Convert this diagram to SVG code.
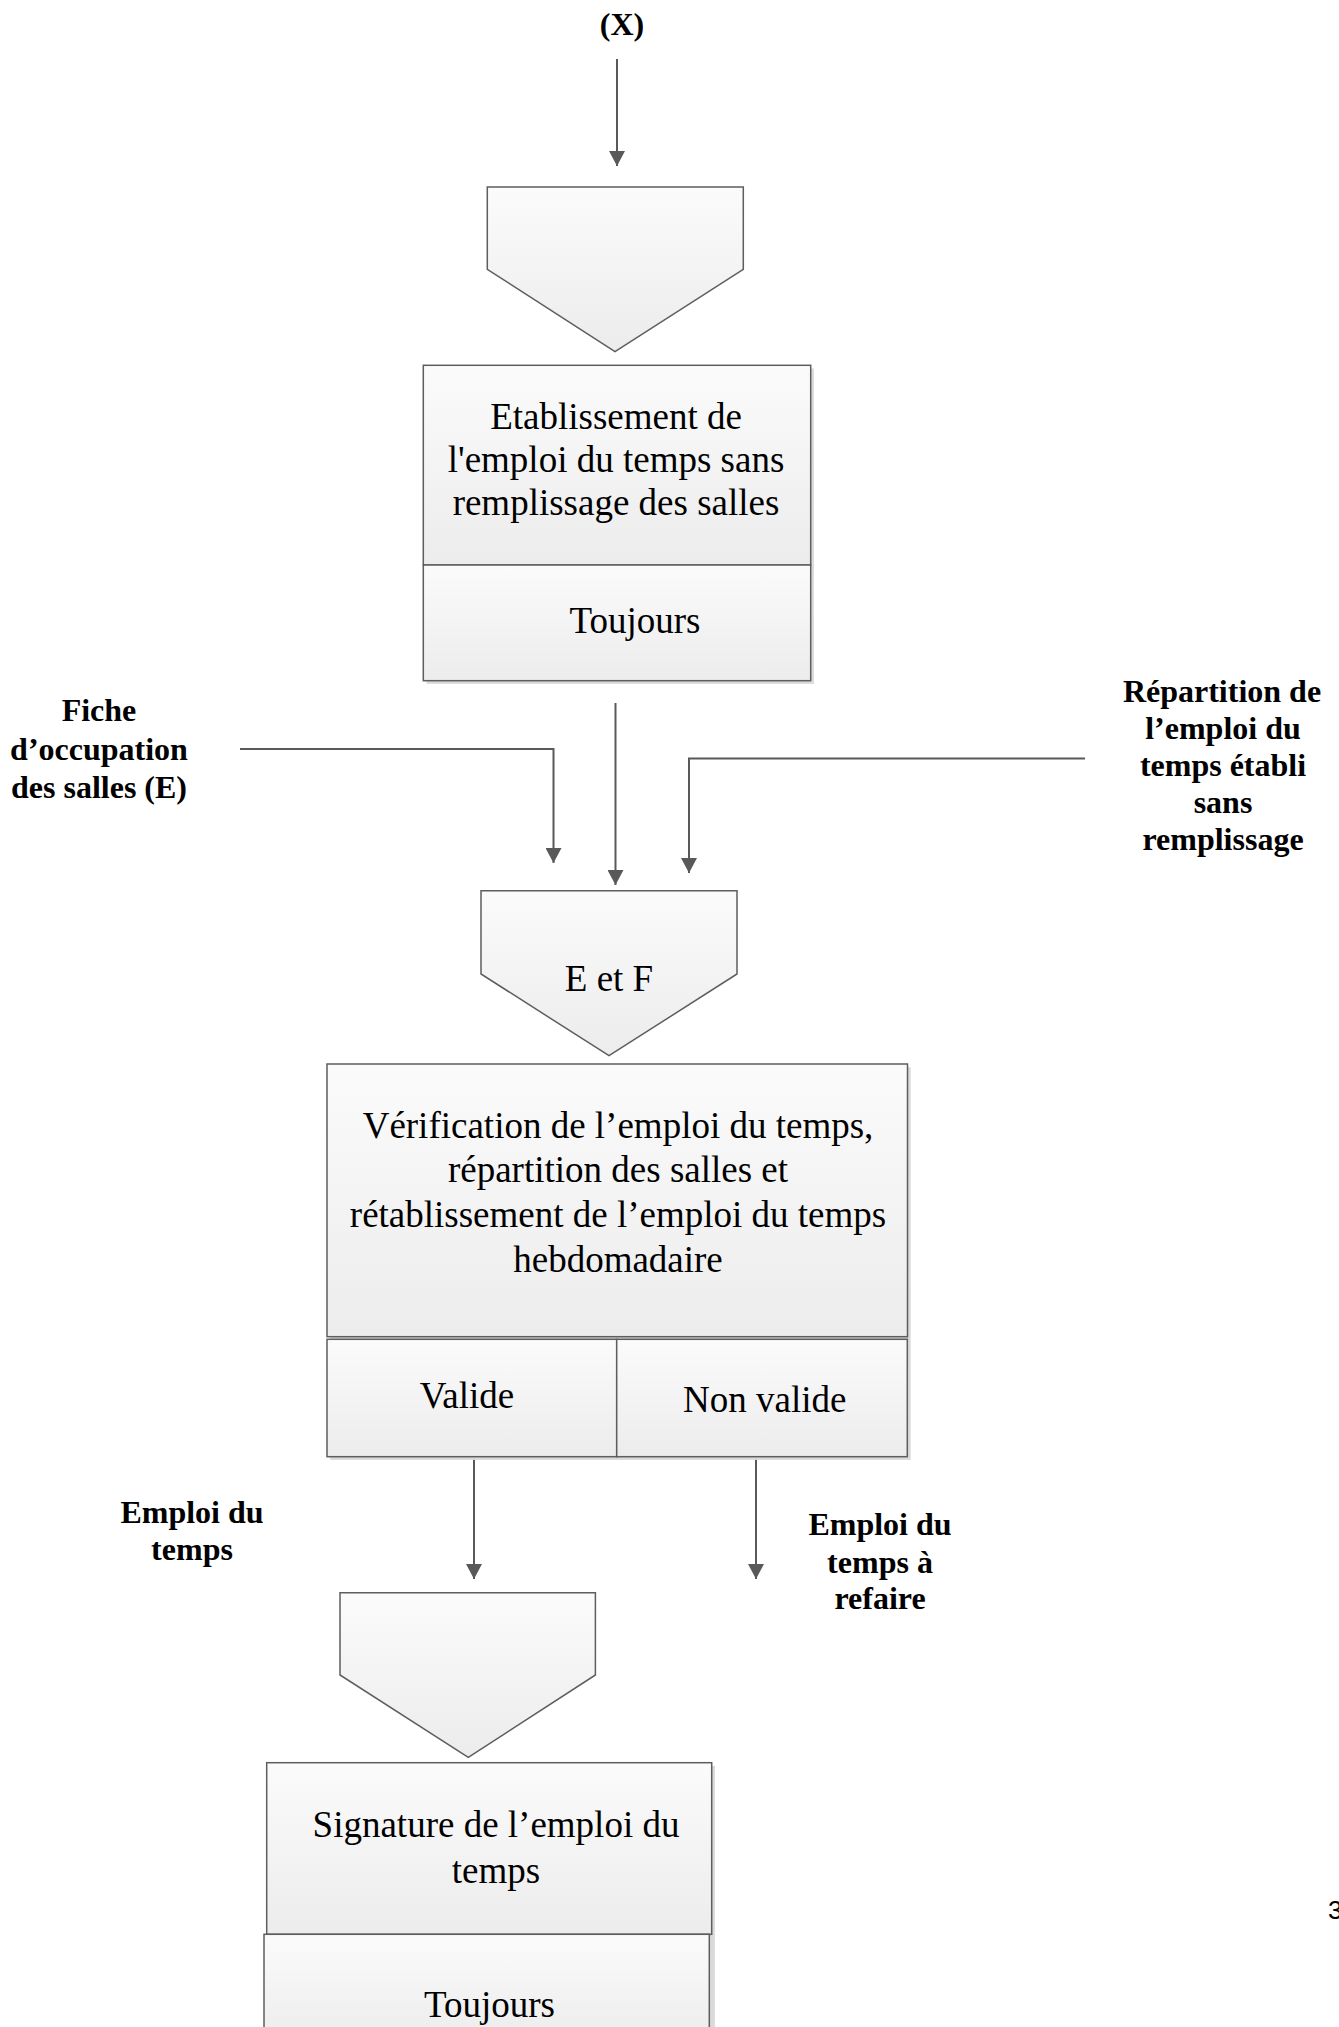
<svg xmlns="http://www.w3.org/2000/svg" width="1339" height="2027" viewBox="0 0 1339 2027">
  <style>
    .shape { fill: url(#boxFill); stroke: #5e5e5e; stroke-width: 1.5; }
    .shadow { fill: #dadada; }
    .label { font-family: "Liberation Serif", "Times New Roman", serif; font-size: 37px; fill: #000; text-anchor: middle; }
    .flow { font-family: "Liberation Serif", "Times New Roman", serif; font-size: 32px; font-weight: bold; fill: #000; text-anchor: middle; }
    .conn { fill: none; stroke: #595959; stroke-width: 2; marker-end: url(#arrow); }
    .page { font-family: "Liberation Sans", Arial, sans-serif; font-size: 26px; fill: #000; }
  </style>
  <defs>
    <linearGradient id="boxFill" x1="0" y1="0" x2="0" y2="1">
      <stop offset="0" stop-color="#fbfbfb"/>
      <stop offset="1" stop-color="#ececec"/>
    </linearGradient>
    <marker id="arrow" markerUnits="userSpaceOnUse" markerWidth="16" markerHeight="16" refX="15" refY="8" orient="auto">
      <path d="M0,0 L15,8 L0,16 Z" fill="#595959"/>
    </marker>
  </defs>

  <rect width="1339" height="2027" fill="#fff"/>

  <!-- connectors -->
  <g id="connectors">
    <line class="conn" x1="617" y1="59" x2="617" y2="166"/>
    <path class="conn" d="M240,749 H553.5 V863"/>
    <line class="conn" x1="615.5" y1="703" x2="615.5" y2="885"/>
    <path class="conn" d="M1085,758.5 H689 V873"/>
    <line class="conn" x1="474" y1="1457" x2="474" y2="1579"/>
    <line class="conn" x1="756" y1="1457" x2="756" y2="1579"/>
  </g>

  <!-- flow labels -->
  <g id="label-x">
    <text class="flow" x="622" y="35">(X)</text>
  </g>
  <g id="label-fiche">
    <text class="flow" x="99" y="721">Fiche</text>
    <text class="flow" x="99" y="760">d’occupation</text>
    <text class="flow" x="99" y="798">des salles (E)</text>
  </g>
  <g id="label-repartition">
    <text class="flow" x="1222" y="701.5">Répartition de</text>
    <text class="flow" x="1223" y="738.5">l’emploi du</text>
    <text class="flow" x="1223" y="775.5">temps établi</text>
    <text class="flow" x="1223" y="812.5">sans</text>
    <text class="flow" x="1223" y="849.5">remplissage</text>
  </g>
  <g id="label-emploi">
    <text class="flow" x="192" y="1523">Emploi du</text>
    <text class="flow" x="192" y="1560">temps</text>
  </g>
  <g id="label-refaire">
    <text class="flow" x="880" y="1535">Emploi du</text>
    <text class="flow" x="880" y="1573">temps à</text>
    <text class="flow" x="880" y="1609">refaire</text>
  </g>

  <!-- event X -->
  <g id="event-x">
    <polygon class="shape" points="487.3,187 743.3,187 743.3,269.3 615,351.7 487.3,269.3"/>
  </g>

  <!-- operation: etablissement -->
  <g id="op-etablissement">
    <rect class="shadow" x="426.5" y="368.5" width="387.4" height="315.4"/>
    <rect class="shape" x="423.3" y="365.3" width="387.4" height="199.7"/>
    <rect class="shape" x="423.3" y="565" width="387.4" height="115.7"/>
    <text class="label" x="616" y="429.3">Etablissement de</text>
    <text class="label" x="616" y="471.7">l'emploi du temps sans</text>
    <text class="label" x="616" y="515">remplissage des salles</text>
    <text class="label" x="635" y="633.3">Toujours</text>
  </g>

  <!-- synchronisation E et F -->
  <g id="event-ef">
    <polygon class="shape" points="481,890.7 737,890.7 737,974 609,1055.7 481,974"/>
    <text class="label" x="609" y="990.7">E et F</text>
  </g>

  <!-- operation: verification -->
  <g id="op-verification">
    <rect class="shadow" x="330.2" y="1067.2" width="580.5" height="392.7"/>
    <rect class="shape" x="327" y="1064" width="580.5" height="272.7"/>
    <rect class="shape" x="327" y="1339.3" width="289.7" height="117.4"/>
    <rect class="shape" x="616.7" y="1339.3" width="290.6" height="117.4"/>
    <text class="label" x="618" y="1138.3">Vérification de l’emploi du temps,</text>
    <text class="label" x="618" y="1181.7">répartition des salles et</text>
    <text class="label" x="618" y="1226.7">rétablissement de l’emploi du temps</text>
    <text class="label" x="618" y="1271.7">hebdomadaire</text>
    <text class="label" x="467" y="1408.3">Valide</text>
    <text class="label" x="764.7" y="1411.7">Non valide</text>
  </g>

  <!-- event emploi du temps -->
  <g id="event-emploi">
    <polygon class="shape" points="340,1592.7 595.4,1592.7 595.4,1675 468.3,1757.3 340,1675"/>
  </g>

  <!-- operation: signature -->
  <g id="op-signature">
    <rect class="shadow" x="269.9" y="1765.9" width="445" height="280"/>
    <rect class="shape" x="266.7" y="1762.7" width="445" height="171.6"/>
    <rect class="shape" x="264" y="1934.3" width="445.3" height="110"/>
    <text class="label" x="496" y="1836.7">Signature de l’emploi du</text>
    <text class="label" x="496" y="1882.7">temps</text>
    <text class="label" x="489.5" y="2016.7">Toujours</text>
  </g>

  <g id="page-number">
    <text class="page" x="1328" y="1919">3</text>
  </g>
</svg>
